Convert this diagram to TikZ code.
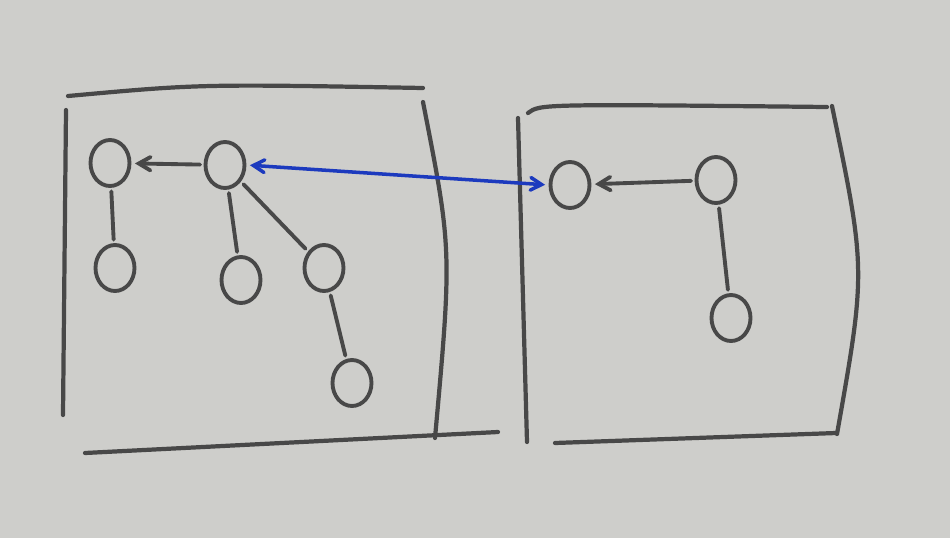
\documentclass[tikz,border=0pt]{standalone}
\usetikzlibrary{arrows,shapes.geometric}
\definecolor{paper}{RGB}{206,206,203}
\definecolor{pencil}{RGB}{72,72,72}
\definecolor{ink}{RGB}{28,58,190}
\begin{document}
\begin{tikzpicture}[x=0.02cm, y=-0.02cm]
\tikzset{
    every node/.style = {draw=pencil, ellipse, line width=2.2pt, minimum width=0.78cm, minimum height=0.92cm, inner sep=0pt},
    every path/.style = {draw=pencil, line width=2.2pt, >=angle 60, line cap=round},
    wall/.style = {line width=2.4pt},
    link/.style = {shorten >=2pt, shorten <=2pt},
    remote/.style = {draw=ink, line width=2pt}
}
\fill[paper, draw=none] (0,0) rectangle (950,538);
\path[use as bounding box, draw=none] (0,0) rectangle (950,538);

% -------------------------------------------------------
% left box
\draw[wall] (68,96) .. controls (200,84) .. (423,88);
\draw[wall] (66,110) -- (63,415);
\draw[wall] (423,102) .. controls (452,250) .. (435,438);
\draw[wall] (85,453) -- (498,432);

% right box
\draw[wall] (528,113) .. controls (540,104) .. (827,107);
\draw[wall] (518,118) -- (527,442);
\draw[wall] (832,106) .. controls (866,270) .. (837,434);
\draw[wall] (555,443) -- (836,433);

% -------------------------------------------------------
\node (a) at (110,163) {};
\node (b) at (225,165) {};
\node (c) at (115,268) {};
\node (d) at (241,280) {};
\node (e) at (324,268) {};
\node (f) at (352,383) {};

\node (g) at (570,185) {};
\node (h) at (716,180) {};
\node (i) at (731,318) {};

% -------------------------------------------------------
\path[->, link] (b) edge (a);
\path[link] (a) edge (c);
\path[link] (b) edge (d);
\path[link] (b) edge (e);
\path[link] (e) edge (f);

\path[->, link] (h) edge (g);
\path[link] (h) edge (i);

\draw[<->, remote, link] (b.east) -- (g.west);
\end{tikzpicture}
\end{document}
